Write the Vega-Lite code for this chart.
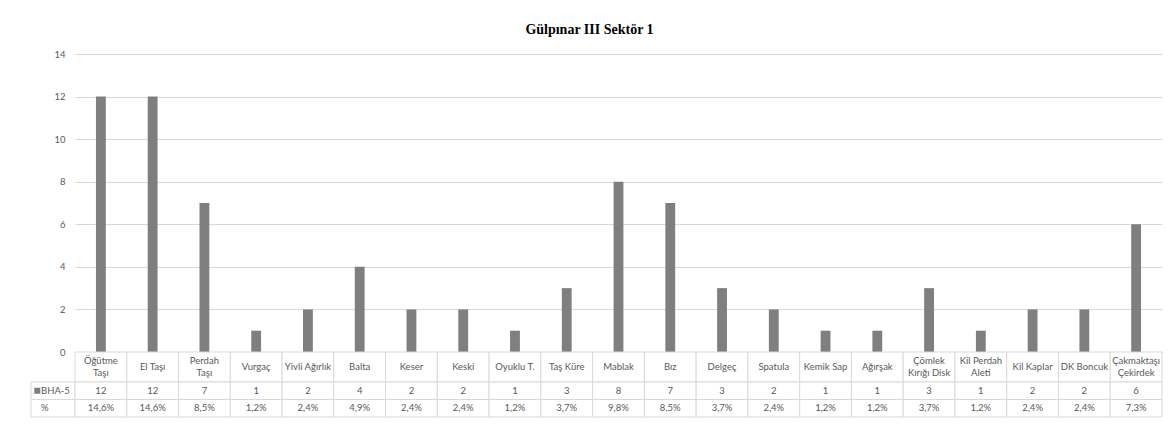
{
  "$schema": "https://vega.github.io/schema/vega-lite/v6.json",
  "padding": {"left": 30, "top": 23, "right": 11, "bottom": 6},
  "background": "white",
  "title": {"text": "Gülpınar III Sektör 1", "font": "Liberation Serif", "fontSize": 14, "fontWeight": "bold", "color": "#000000", "offset": 12, "dx": -7, "anchor": "middle"},
  "config": {"view": {"stroke": null}, "font": "Lato"},
  "datasets": {
    "items": [
      {"cat": "Öğütme Taşı", "label": "Öğütme\nTaşı", "count": 12, "pct": "14,6%"},
      {"cat": "El Taşı", "label": "El Taşı", "count": 12, "pct": "14,6%"},
      {"cat": "Perdah Taşı", "label": "Perdah\nTaşı", "count": 7, "pct": "8,5%"},
      {"cat": "Vurgaç", "label": "Vurgaç", "count": 1, "pct": "1,2%"},
      {"cat": "Yivli Ağırlık", "label": "Yivli Ağırlık", "count": 2, "pct": "2,4%"},
      {"cat": "Balta", "label": "Balta", "count": 4, "pct": "4,9%"},
      {"cat": "Keser", "label": "Keser", "count": 2, "pct": "2,4%"},
      {"cat": "Keski", "label": "Keski", "count": 2, "pct": "2,4%"},
      {"cat": "Oyuklu T.", "label": "Oyuklu T.", "count": 1, "pct": "1,2%"},
      {"cat": "Taş Küre", "label": "Taş Küre", "count": 3, "pct": "3,7%"},
      {"cat": "Mablak", "label": "Mablak", "count": 8, "pct": "9,8%"},
      {"cat": "Bız", "label": "Bız", "count": 7, "pct": "8,5%"},
      {"cat": "Delgeç", "label": "Delgeç", "count": 3, "pct": "3,7%"},
      {"cat": "Spatula", "label": "Spatula", "count": 2, "pct": "2,4%"},
      {"cat": "Kemik Sap", "label": "Kemik Sap", "count": 1, "pct": "1,2%"},
      {"cat": "Ağırşak", "label": "Ağırşak", "count": 1, "pct": "1,2%"},
      {"cat": "Çömlek Kırığı Disk", "label": "Çömlek\nKırığı Disk", "count": 3, "pct": "3,7%"},
      {"cat": "Kil Perdah Aleti", "label": "Kil Perdah\nAleti", "count": 1, "pct": "1,2%"},
      {"cat": "Kil Kaplar", "label": "Kil Kaplar", "count": 2, "pct": "2,4%"},
      {"cat": "DK Boncuk", "label": "DK Boncuk", "count": 2, "pct": "2,4%"},
      {"cat": "Çakmaktaşı Çekirdek", "label": "Çakmaktaşı\nÇekirdek", "count": 6, "pct": "7,3%"}
    ]
  },
  "columns": 2,
  "spacing": 0,
  "bounds": "flush",
  "align": "each",
  "concat": [
    {"width": 44, "height": 298, "data": {"values": []}, "mark": "point"},
    {
      "width": 1087, "height": 298,
      "data": {"name": "items"},
      "mark": {"type": "bar", "color": "#7f7f7f", "width": {"band": 0.19}},
      "encoding": {
        "x": {"field": "cat", "type": "nominal", "sort": null, "scale": {"paddingInner": 0, "paddingOuter": 0}, "axis": null},
        "y": {"field": "count", "type": "quantitative", "scale": {"domain": [0, 14]},
          "axis": {"values": [0, 2, 4, 6, 8, 10, 12, 14], "grid": true, "gridColor": "#d9d9d9", "gridWidth": 1, "domain": false, "ticks": false, "labelPadding": 10, "labelColor": "#595959", "labelFont": "Lato", "labelFontSize": 9.5, "title": null}}
      }
    },
    {"width": 44, "height": 30, "data": {"values": []}, "mark": "point"},
    {
      "width": 1087, "height": 30,
      "data": {"name": "items"},
      "encoding": {"x": {"field": "cat", "type": "nominal", "sort": null, "scale": {"paddingInner": 0, "paddingOuter": 0}, "axis": null}},
      "layer": [
        {"mark": {"type": "rect", "fill": "white", "stroke": "#d9d9d9", "strokeWidth": 1}},
        {"transform": [{"filter": "indexof(datum.label, '\\n') < 0"}],
         "mark": {"type": "text", "fontSize": 9.5, "font": "Lato", "color": "#595959"}, "encoding": {"text": {"field": "label", "type": "nominal"}}},
        {"transform": [{"filter": "indexof(datum.label, '\\n') >= 0"}],
         "mark": {"type": "text", "lineBreak": "\n", "lineHeight": 11.5, "dy": -5.75, "fontSize": 9.5, "font": "Lato", "color": "#595959"}, "encoding": {"text": {"field": "label", "type": "nominal"}}}
      ]
    },
    {
      "width": 44, "height": 35,
      "data": {"values": [{"row": "count", "lab": "BHA-5"}, {"row": "pct", "lab": "%"}]},
      "encoding": {"y": {"field": "row", "type": "nominal", "sort": ["count", "pct"], "scale": {"paddingInner": 0, "paddingOuter": 0}, "axis": null}},
      "layer": [
        {"mark": {"type": "rect", "fill": "white", "stroke": "#d9d9d9", "strokeWidth": 1}},
        {"mark": {"type": "text", "align": "left", "dx": -12, "fontSize": 9.5, "font": "Lato", "color": "#595959"}, "encoding": {"text": {"field": "lab", "type": "nominal"}}},
        {"transform": [{"filter": "datum.row == 'count'"}], "mark": {"type": "point", "shape": "square", "filled": true, "size": 36, "color": "#7f7f7f", "opacity": 1, "xOffset": -15.7}}
      ]
    },
    {
      "width": 1087, "height": 35,
      "data": {"name": "items"},
      "transform": [{"fold": ["count", "pct"], "as": ["row", "val"]}],
      "encoding": {
        "x": {"field": "cat", "type": "nominal", "sort": null, "scale": {"paddingInner": 0, "paddingOuter": 0}, "axis": null},
        "y": {"field": "row", "type": "nominal", "sort": ["count", "pct"], "scale": {"paddingInner": 0, "paddingOuter": 0}, "axis": null}
      },
      "layer": [
        {"mark": {"type": "rect", "fill": "white", "stroke": "#d9d9d9", "strokeWidth": 1}},
        {"mark": {"type": "text", "fontSize": 9.5, "font": "Lato", "color": "#595959"}, "encoding": {"text": {"field": "val", "type": "nominal"}}}
      ]
    }
  ]
}
